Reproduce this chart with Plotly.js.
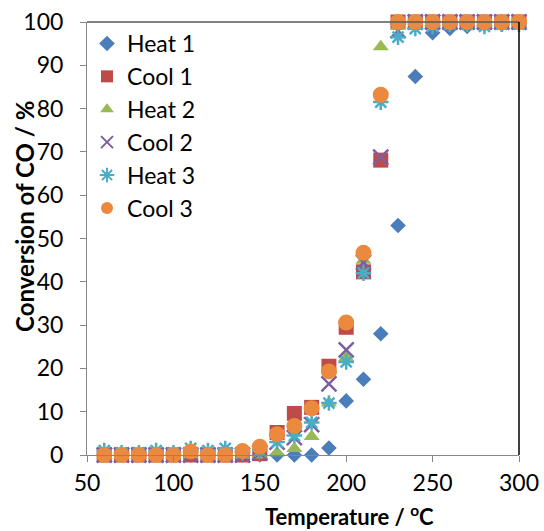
<!DOCTYPE html>
<html>
<head>
<meta charset="utf-8">
<script src="https://cdn.plot.ly/plotly-3.0.1.min.js"></script>
<style>html,body{margin:0;padding:0;background:#fff;}#chart{width:544px;height:531px;}</style>
</head>
<body>
<div id="chart"></div>
<script>
const temperature = [60,70,80,90,100,110,120,130,140,150,160,170,180,190,200,210,220,230,240,250,260,270,280,290,300];
const heat1 = [0,0,0,0,0,0,0,0,0,0,0,0,0,1.6,12.5,17.5,28,53,87.4,97.5,98.5,99,99.5,99.5,100];
const cool1 = [0,0,0,0,0,0,0,0,0,0.3,5.2,9.6,11,20.5,29.5,42.3,68.1,100,100,100,100,100,100,100,100];
const heat2 = [0,0,0,0,0,0,0,0,0,0,0.5,1.5,4.3,12,22.5,45,94.3,99,100,100,100,100,100,100,100];
const cool2 = [0,0,0,0,0,0,0,0,0,0.5,3,4,7,16.4,24.3,44.5,68.8,98,100,100,100,100,100,100,100];
const heat3 = [1,0.5,0.5,1,0.5,1.5,1,1.5,0.5,1,3,4.5,7.5,12,21.5,42,81.5,96.5,98.5,99,99.5,99.5,99,99.5,99.5];
const cool3 = [0,0,0,0,0,0.8,0,0,0.9,1.9,4.8,6.7,10.8,19.3,30.6,46.7,83.2,100,100,100,100,100,100,100,100];
const seriesNames = ['Heat 1','Cool 1','Heat 2','Cool 2','Heat 3','Cool 3'];
const xTicks = [50,100,150,200,250,300];
const yTicks = [0,10,20,30,40,50,60,70,80,90,100];
const xTitle = 'Temperature / <sup>o</sup>C';
const yTitle = 'Conversion of CO / %';

const styles = [
  {symbol:'diamond', color:'#4A7DBA', size:12},
  {symbol:'square', color:'#BE4B48', size:15},
  {symbol:'triangle-up', color:'#98B954', size:14},
  {symbol:'x-thin-open', color:'#7D5FA0', size:15, line:2.5},
  {symbol:'asterisk-open', color:'#4AACC5', size:13, line:2.5},
  {symbol:'circle', color:'#EB8A3E', size:16}
];
const series = [heat1, cool1, heat2, cool2, heat3, cool3];

const traces = series.map((ys, i) => {
  const s = styles[i];
  const marker = {symbol: s.symbol, size: s.size, color: s.color};
  if (s.line) marker.line = {color: s.color, width: s.line};
  else marker.line = {width: 0};
  return {
    x: temperature, y: ys, name: seriesNames[i], type: 'scatter', mode: 'markers',
    marker: marker, cliponaxis: false, legendgroup: 'g' + i
  };
});

const font = 'Lato, "Liberation Sans", sans-serif';
const layout = {
  width: 544, height: 531,
  margin: {l: 86.5, r: 25, t: 22, b: 76},
  paper_bgcolor: '#fff', plot_bgcolor: '#fff',
  font: {family: font, size: 23, color: '#000'},
  showlegend: true,
  legend: {x: 0.0, y: 1.0, xanchor: 'left', yanchor: 'top', bgcolor: 'rgba(0,0,0,0)',
           font: {family: font, size: 23, color: '#000'}, traceorder: 'grouped', tracegroupgap: 0,
           itemsizing: 'constant'},
  xaxis: {
    range: [50, 300], tickvals: xTicks, ticktext: xTicks.map(String),
    showgrid: false, zeroline: false, showline: true, linecolor: '#868686', linewidth: 1,
    ticks: 'outside', ticklen: 6, tickcolor: '#868686', tickwidth: 1,
    tickfont: {family: font, size: 23, color: '#000'}, ticklabelstandoff: 1
  },
  yaxis: {
    range: [0, 100], tickvals: yTicks, ticktext: yTicks.map(String),
    showgrid: false, zeroline: false, showline: true, linecolor: '#868686', linewidth: 1,
    ticks: 'outside', ticklen: 6, tickcolor: '#868686', tickwidth: 1,
    tickfont: {family: font, size: 23, color: '#000'}, ticklabelstandoff: 12
  },
  shapes: [
    {type: 'line', xref: 'paper', yref: 'paper', x0: 0, x1: 1, y0: 1, y1: 1, line: {color: '#595959', width: 1.5}},
    {type: 'line', xref: 'paper', yref: 'paper', x0: 1, x1: 1, y0: 0, y1: 1, line: {color: '#000', width: 1.5}}
  ],
  annotations: [
    {text: yTitle, xref: 'paper', yref: 'paper', x: -0.1445, y: 0.551, textangle: -90,
     showarrow: false, xanchor: 'center', yanchor: 'middle',
     font: {family: font, size: 24, color: '#000', weight: 'bold'}},
    {text: xTitle, xref: 'paper', yref: 'paper', x: 0.607, y: -0.1386,
     showarrow: false, xanchor: 'center', yanchor: 'middle',
     font: {family: font, size: 22, color: '#000', weight: 'bold'}}
  ]
};

Plotly.newPlot('chart', traces, layout, {displayModeBar: false, staticPlot: true});
</script>
</body>
</html>
